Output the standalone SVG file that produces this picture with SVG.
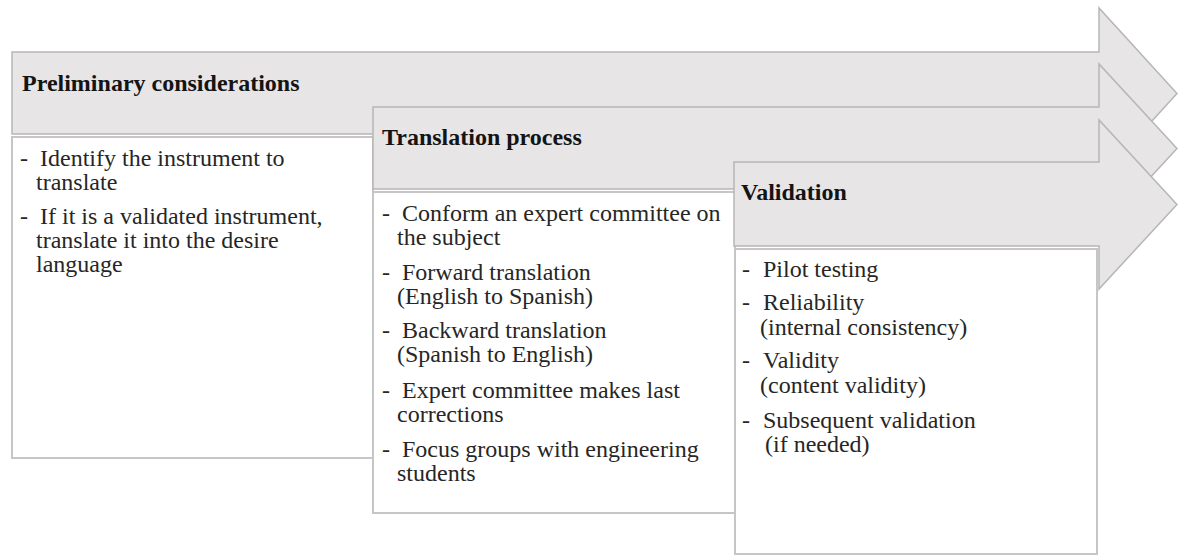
<svg xmlns="http://www.w3.org/2000/svg" width="1178" height="560" viewBox="0 0 1178 560">
  <style>
    .arrow { fill: #e7e5e6; stroke: #b6b6b6; stroke-width: 1.5; stroke-linejoin: miter; }
    .box { fill: #ffffff; stroke: #c6c6c6; stroke-width: 2; }
    .title { font-family: "Liberation Serif", "Times New Roman", serif; font-size: 24px; font-weight: bold; fill: #141414; }
    .item { font-family: "Liberation Serif", "Times New Roman", serif; font-size: 24px; fill: #262626; }
  </style>
  <rect x="0" y="0" width="1178" height="560" fill="#ffffff"/>

  <!-- Stage 1: preliminary considerations -->
  <g id="stage-preliminary">
    <path class="arrow" d="M12,52 H1099 V8 L1177,93.5 L1099,179 V134 H12 Z"/>
    <rect class="box" x="12" y="137" width="361" height="321"/>
    <text class="title" x="22" y="91">Preliminary considerations</text>
    <text class="item" x="20" y="166">-</text>
    <text class="item" x="40" y="166">Identify the instrument to</text>
    <text class="item" x="36" y="190">translate</text>
    <text class="item" x="20" y="224">-</text>
    <text class="item" x="40" y="224">If it is a validated instrument,</text>
    <text class="item" x="36" y="248">translate it into the desire</text>
    <text class="item" x="36" y="272">language</text>
  </g>

  <!-- Stage 2: translation process -->
  <g id="stage-translation">
    <path class="arrow" d="M373,107 H1099 V64 L1177,148.5 L1099,233 V189 H373 Z"/>
    <rect class="box" x="373" y="192" width="362" height="321"/>
    <text class="title" x="382" y="145">Translation process</text>
    <text class="item" x="382" y="221">-</text>
    <text class="item" x="402" y="221">Conform an expert committee on</text>
    <text class="item" x="397" y="245">the subject</text>
    <text class="item" x="382" y="280">-</text>
    <text class="item" x="402" y="280">Forward translation</text>
    <text class="item" x="397" y="304">(English to Spanish)</text>
    <text class="item" x="382" y="338">-</text>
    <text class="item" x="402" y="338">Backward translation</text>
    <text class="item" x="397" y="362">(Spanish to English)</text>
    <text class="item" x="382" y="398">-</text>
    <text class="item" x="402" y="398">Expert committee makes last</text>
    <text class="item" x="397" y="422">corrections</text>
    <text class="item" x="382" y="457">-</text>
    <text class="item" x="402" y="457">Focus groups with engineering</text>
    <text class="item" x="397" y="481">students</text>
  </g>

  <!-- Stage 3: validation -->
  <g id="stage-validation">
    <path class="arrow" d="M734,162 H1099 V120 L1177,204.5 L1099,289 V246 H734 Z"/>
    <rect class="box" x="735" y="249" width="362" height="305"/>
    <text class="title" x="741" y="200">Validation</text>
    <text class="item" x="742" y="277">-</text>
    <text class="item" x="763" y="277">Pilot testing</text>
    <text class="item" x="742" y="310">-</text>
    <text class="item" x="763" y="310">Reliability</text>
    <text class="item" x="760" y="335">(internal consistency)</text>
    <text class="item" x="742" y="368">-</text>
    <text class="item" x="763" y="368">Validity</text>
    <text class="item" x="760" y="393">(content validity)</text>
    <text class="item" x="742" y="428">-</text>
    <text class="item" x="763" y="428">Subsequent validation</text>
    <text class="item" x="765" y="452">(if needed)</text>
  </g>
</svg>
